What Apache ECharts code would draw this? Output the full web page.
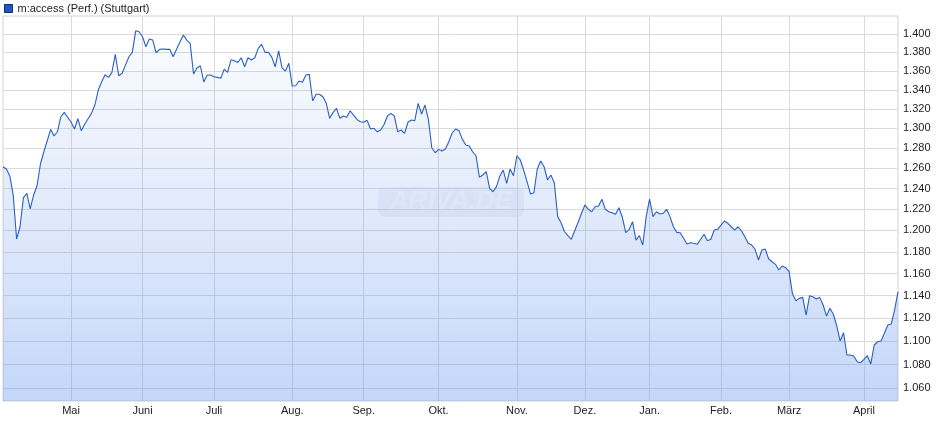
<!DOCTYPE html>
<html><head><meta charset="utf-8">
<script src="https://cdn.jsdelivr.net/npm/echarts@6/dist/echarts.min.js"></script>
<style>html,body{margin:0;padding:0;background:#fff}#c{width:940px;height:435px}</style>
</head><body><div id="c"></div>
<script>
const seriesName = 'm:access (Perf.) (Stuttgart)';
const monthNames = ['April','Mai','Juni','Juli','Aug.','Sep.','Okt.','Nov.','Dez.','Jan.','Feb.','März','April'];
const monthCounts = [20,21,21,23,21,22,23,20,19,21,20,22,11];
const values = [
1.2615,1.2592,1.2524,1.2338,1.1919,1.2034,1.2312,1.2355,1.2203,1.2338,
1.2428,1.2642,1.2764,1.2875,1.2991,1.2923,1.2966,1.3120,1.3165,1.3114,
1.3066,1.2994,1.3099,1.2977,1.3042,1.3099,1.3155,1.3241,1.3398,1.3486,
1.3560,1.3532,1.3585,1.3778,1.3549,1.3575,1.3663,1.3753,1.3800,1.4036,
1.4025,1.3970,1.3861,1.3945,1.3934,1.3796,1.3833,1.3836,1.3833,1.3833,
1.3753,1.3833,1.3913,1.3989,1.3934,1.3898,1.3567,1.3631,1.3656,1.3483,
1.3557,1.3557,1.3539,1.3532,1.3522,1.3620,1.3585,1.3720,1.3710,1.3692,
1.3742,1.3645,1.3742,1.3717,1.3742,1.3844,1.3887,1.3800,1.3800,1.3746,
1.3645,1.3817,1.3634,1.3599,1.3682,1.3440,1.3443,1.3493,1.3479,1.3557,
1.3564,1.3283,1.3353,1.3353,1.3328,1.3259,1.3104,1.3165,1.3206,1.3104,
1.3127,1.3114,1.3182,1.3137,1.3093,1.3069,1.3063,1.3083,1.2994,1.3001,
1.2966,1.2984,1.3042,1.3130,1.3155,1.3127,1.2966,1.2984,1.2950,1.3063,
1.3086,1.3079,1.3259,1.3148,1.3241,1.3093,1.2804,1.2754,1.2788,1.2771,
1.2791,1.2865,1.2956,1.2994,1.2977,1.2889,1.2831,1.2821,1.2764,1.2724,
1.2511,1.2533,1.2566,1.2403,1.2370,1.2419,1.2524,1.2582,1.2452,1.2592,
1.2526,1.2724,1.2682,1.2582,1.2468,1.2348,1.2360,1.2592,1.2672,1.2615,
1.2484,1.2533,1.2458,1.2130,1.2072,1.1987,1.1950,1.1916,1.1996,1.2076,
1.2162,1.2242,1.2200,1.2177,1.2225,1.2232,1.2297,1.2200,1.2177,1.2168,
1.2152,1.2215,1.2124,1.1978,1.2010,1.2082,1.1909,1.1950,1.1863,1.2130,
1.2297,1.2130,1.2177,1.2155,1.2162,1.2200,1.2130,1.2034,1.1981,1.1978,
1.1925,1.1872,1.1884,1.1879,1.1869,1.1916,1.1963,1.1903,1.1916,1.2003,
1.2010,1.2050,1.2089,1.2067,1.2034,1.2003,1.2034,1.1996,1.1940,1.1879,
1.1863,1.1822,1.1724,1.1816,1.1825,1.1733,1.1708,1.1684,1.1632,1.1669,
1.1653,1.1617,1.1414,1.1355,1.1376,1.1385,1.1228,1.1399,1.1390,1.1370,
1.1385,1.1317,1.1219,1.1288,1.1235,1.1134,1.1001,1.1073,1.0881,1.0881,
1.0873,1.0824,1.0815,1.0844,1.0875,1.0804,1.0967,1.0995,1.1001,1.1068,
1.1141,1.1149,1.1273,1.1435
];
const yTicks = [1.06,1.08,1.10,1.12,1.14,1.16,1.18,1.20,1.22,1.24,1.26,1.28,1.30,1.32,1.34,1.36,1.38,1.40];
const yMin = 1.0495, yMax = 1.42;

// categories: one per trading day, grouped by month
const categories = [];
const monthStart = {};
monthCounts.forEach((n, m) => {
  if (m > 0) monthStart[categories.length] = monthNames[m];
  for (let k = 0; k < n; k++) categories.push(monthNames[m] + '#' + k);
});
const isStart = (i) => monthStart[i] !== undefined;

const FONT = 'Liberation Sans, Arial, sans-serif';
const chart = echarts.init(document.getElementById('c'), null, {renderer: 'canvas'});
chart.setOption({
  animation: false,
  backgroundColor: '#ffffff',
  textStyle: {fontFamily: FONT},
  legend: {
    left: 4, top: 3, padding: 0, itemWidth: 8, itemHeight: 8, icon: 'rect',
    data: [{name: seriesName, itemStyle: {color: '#1f56c4', borderColor: '#0e2f7a', borderWidth: 1}}],
    textStyle: {fontSize: 11, color: '#222', fontFamily: FONT},
    selectedMode: false
  },
  grid: {left: 3, right: 42, top: 16, bottom: 34, show: true, borderColor: '#d2d2d2', borderWidth: 1, backgroundColor: 'transparent'},
  xAxis: {
    type: 'category', data: categories, boundaryGap: false,
    axisLine: {show: false}, axisTick: {show: false},
    axisLabel: {
      interval: (i) => isStart(i), margin: 4, fontSize: 11, color: '#222', fontFamily: FONT,
      formatter: (v, i) => monthStart[i] || ''
    },
    splitLine: {show: true, interval: (i) => isStart(i), lineStyle: {color: '#dadada', width: 1}}
  },
  yAxis: {
    type: 'log', logBase: 10, position: 'right', min: yMin, max: yMax,
    axisLine: {show: false},
    axisTick: {show: false, customValues: yTicks},
    axisLabel: {customValues: yTicks, margin: 5, fontSize: 11, color: '#222', fontFamily: FONT,
      formatter: (v) => Number(v).toFixed(3)},
    splitLine: {show: true, lineStyle: {color: '#dadada', width: 1}}
  },
  graphic: [{
    type: 'group', left: 378, top: 187, silent: true, z: 1,
    children: [
      {type: 'rect', shape: {x: 0, y: 0, width: 146, height: 30, r: 7}, style: {fill: 'rgba(140,165,210,0.12)'}},
      {type: 'text', x: 73, y: 15, style: {text: 'ARIVA.DE', fontSize: 26, fontWeight: 'bold', fontStyle: 'italic', fontFamily: FONT, fill: 'rgba(255,255,255,0.55)', align: 'center', verticalAlign: 'middle'}}
    ]
  }],
  series: [{
    name: seriesName, type: 'line', data: values, symbol: 'none', smooth: false,
    lineStyle: {color: '#2a5fc6', width: 1.1},
    itemStyle: {color: '#1f56c4'},
    areaStyle: {
      color: new echarts.graphic.LinearGradient(0, 0, 0, 1, [
        {offset: 0, color: 'rgba(120,160,235,0.05)'},
        {offset: 0.5, color: 'rgba(110,155,238,0.30)'},
        {offset: 1, color: 'rgba(100,150,240,0.55)'}
      ])
    }
  }]
});
</script>
</body></html>
